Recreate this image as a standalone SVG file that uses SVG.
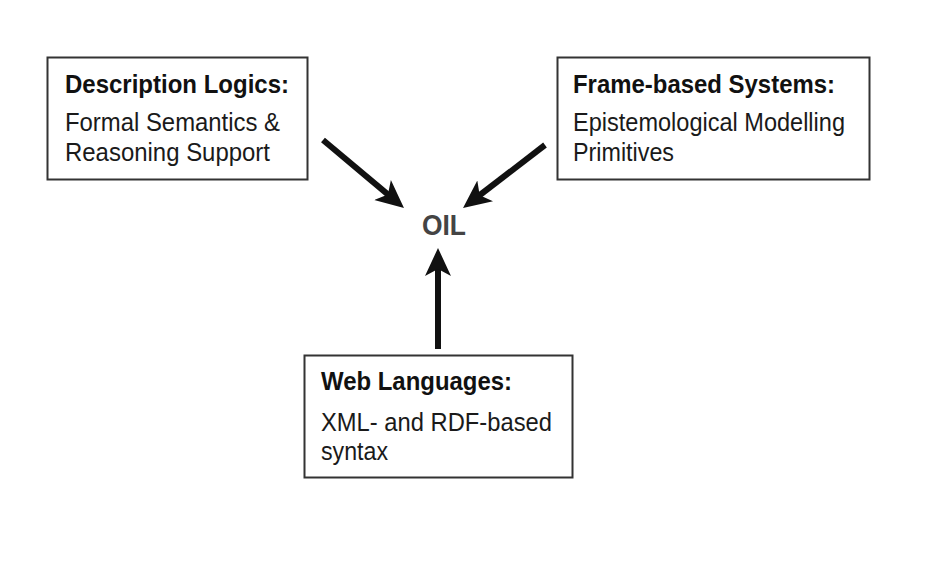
<svg xmlns="http://www.w3.org/2000/svg" width="938" height="573" viewBox="0 0 938 573">
  <style>
    .box { fill: #ffffff; stroke: #333333; stroke-width: 2; }
    .t { font-family: "Liberation Sans", Arial, sans-serif; font-size: 26px; fill: #1a1a1a; }
    .b { font-weight: bold; fill: #111111; }
    .conn { stroke: #111111; stroke-width: 6; fill: none; marker-end: url(#head); }
    .oil { font-family: "Liberation Sans", Arial, sans-serif; font-size: 29px; font-weight: bold; fill: #444444; }
  </style>
  <defs>
    <marker id="head" viewBox="0 0 28 28" markerWidth="28" markerHeight="28" markerUnits="userSpaceOnUse" refX="10" refY="14" orient="auto">
      <path d="M28,14 L0,1 L7,14 L0,27 Z" fill="#111111"/>
    </marker>
  </defs>
  <rect width="938" height="573" fill="#ffffff"/>

  <g id="node-dl">
    <rect class="box" x="47.5" y="57.5" width="260" height="122"/>
    <text class="t b" x="65" y="93" textLength="224" lengthAdjust="spacingAndGlyphs">Description Logics:</text>
    <text class="t" x="65" y="131" textLength="215" lengthAdjust="spacingAndGlyphs">Formal Semantics &amp;</text>
    <text class="t" x="65" y="161" textLength="205" lengthAdjust="spacingAndGlyphs">Reasoning Support</text>
  </g>

  <g id="node-frame">
    <rect class="box" x="557.5" y="57.5" width="312" height="122"/>
    <text class="t b" x="573" y="93" textLength="262" lengthAdjust="spacingAndGlyphs">Frame-based Systems:</text>
    <text class="t" x="573" y="131" textLength="272" lengthAdjust="spacingAndGlyphs">Epistemological Modelling</text>
    <text class="t" x="573" y="161" textLength="101" lengthAdjust="spacingAndGlyphs">Primitives</text>
  </g>

  <g id="node-web">
    <rect class="box" x="304.5" y="355.5" width="268" height="122"/>
    <text class="t b" x="321" y="390" textLength="191" lengthAdjust="spacingAndGlyphs">Web Languages:</text>
    <text class="t" x="321" y="431" textLength="231" lengthAdjust="spacingAndGlyphs">XML- and RDF-based</text>
    <text class="t" x="321" y="460" textLength="67" lengthAdjust="spacingAndGlyphs">syntax</text>
  </g>

  <g id="node-oil">
    <text class="oil" x="422" y="235" textLength="44" lengthAdjust="spacingAndGlyphs">OIL</text>
  </g>

  <g id="connectors">
    <line class="conn" x1="323" y1="140" x2="390.2" y2="196.4"/>
    <line class="conn" x1="545" y1="145" x2="477.3" y2="197"/>
    <line class="conn" x1="438" y1="349" x2="438" y2="266"/>
  </g>
</svg>
